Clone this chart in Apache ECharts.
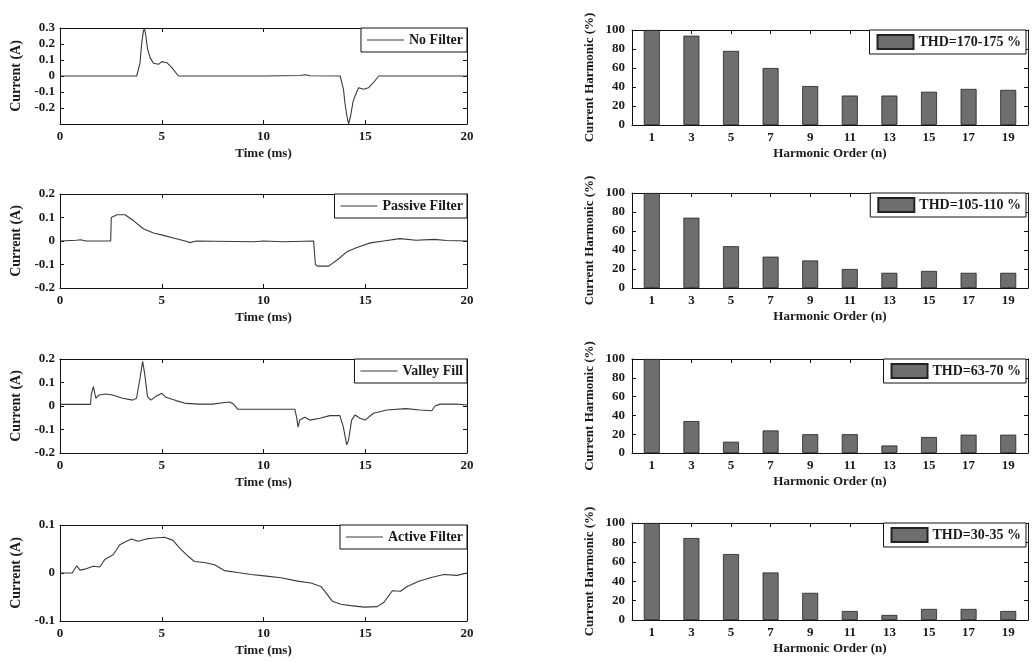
<!DOCTYPE html>
<html>
<head>
<meta charset="utf-8">
<script src="https://cdn.jsdelivr.net/npm/echarts@6/dist/echarts.min.js"></script>
<style>html,body{margin:0;padding:0;background:#fff;}#c{width:1032px;height:662px;}</style>
</head>
<body>
<div id="c"></div>
<script>
// ---------- DATA ----------
const timeTicks = [0, 5, 10, 15, 20];
const noFilter = [[0,0],[1,0],[2,0],[3,0],[3.77,0],[3.85,0.01],[3.93,0.08],[4.02,0.21],[4.1,0.28],[4.15,0.3],[4.22,0.25],[4.3,0.17],[4.43,0.115],[4.59,0.08],[4.84,0.073],[5.0,0.09],[5.08,0.094],[5.25,0.083],[5.5,0.052],[5.82,0],[8,0],[10,0],[11.8,0.003],[12.05,0.008],[12.3,0.002],[13.77,0],[13.93,-0.083],[14.0,-0.167],[14.1,-0.25],[14.18,-0.3],[14.28,-0.25],[14.4,-0.16],[14.5,-0.125],[14.67,-0.073],[14.92,-0.083],[15.16,-0.073],[15.4,-0.042],[15.66,0],[20,0]];
const passiveFilter = [[0,0],[0.8,0.003],[1.0,0.005],[1.3,0],[2.49,0],[2.52,0.1],[2.8,0.112],[3.2,0.112],[3.6,0.087],[4.1,0.052],[4.59,0.034],[5.08,0.024],[5.57,0.013],[6.15,0],[6.4,-0.007],[6.7,0],[9.5,-0.003],[10,0],[11,-0.003],[12.46,0],[12.55,-0.1],[12.65,-0.107],[13.2,-0.107],[13.6,-0.082],[14.1,-0.046],[14.59,-0.028],[15.25,-0.008],[15.9,0],[16.7,0.01],[17.5,0.003],[18.4,0.007],[19.0,0.002],[20,0]];
const valleyFill = [[0,0.007],[1.5,0.007],[1.54,0.05],[1.64,0.082],[1.76,0.033],[1.92,0.047],[2.25,0.051],[2.58,0.047],[3.07,0.033],[3.57,0.025],[3.76,0.033],[3.93,0.117],[4.06,0.19],[4.16,0.139],[4.3,0.04],[4.47,0.025],[4.72,0.042],[5.01,0.054],[5.2,0.037],[5.7,0.023],[6.2,0.011],[6.85,0.008],[7.5,0.008],[8.0,0.014],[8.33,0.017],[8.5,0.01],[8.74,-0.014],[11.54,-0.014],[11.62,-0.045],[11.7,-0.09],[11.78,-0.06],[12.03,-0.048],[12.28,-0.06],[12.77,-0.052],[13.26,-0.041],[13.75,-0.041],[13.92,-0.088],[14.09,-0.165],[14.18,-0.145],[14.33,-0.06],[14.5,-0.038],[14.74,-0.052],[14.99,-0.06],[15.4,-0.031],[16.06,-0.017],[17.0,-0.011],[17.7,-0.017],[18.27,-0.02],[18.43,0],[18.68,0.008],[19.5,0.008],[20,0.004]];
const activeFilter = [[0,0],[0.6,0],[0.82,0.015],[0.98,0.006],[1.22,0.008],[1.63,0.014],[1.96,0.0125],[2.2,0.028],[2.61,0.038],[2.94,0.059],[3.27,0.066],[3.51,0.071],[3.84,0.066],[4.24,0.071],[4.65,0.073],[5.14,0.0745],[5.55,0.068],[5.88,0.052],[6.29,0.035],[6.61,0.024],[7.1,0.022],[7.59,0.017],[8.08,0.005],[8.73,0.001],[9.39,-0.003],[10.04,-0.006],[10.86,-0.01],[11.67,-0.017],[12.33,-0.021],[12.82,-0.028],[13.14,-0.045],[13.39,-0.059],[13.8,-0.065],[14.29,-0.068],[14.94,-0.071],[15.59,-0.07],[15.92,-0.061],[16.33,-0.037],[16.73,-0.038],[17.06,-0.028],[17.63,-0.017],[18.2,-0.01],[18.86,-0.003],[19.51,-0.005],[20,0]];

const harmonicOrders = ['1','3','5','7','9','11','13','15','17','19'];
const noFilterHarm = [100, 94, 78, 60, 41, 31, 31, 35, 38, 37];
const passiveHarm = [100, 74, 44, 33, 29, 20, 16, 18, 16, 16];
const valleyHarm = [100, 34, 12, 24, 20, 20, 8, 17, 19.5, 19.5];
const activeHarm = [100, 84.5, 68, 49, 28, 9.3, 5.2, 11.4, 11.4, 9.3];

const lineNames = ['No Filter', 'Passive Filter', 'Valley Fill', 'Active Filter'];
const barNames = ['THD=170-175 %', 'THD=105-110 %', 'THD=63-70 %', 'THD=30-35 %'];
const lineRanges = [[-0.3, 0.3], [-0.2, 0.2], [-0.2, 0.2], [-0.1, 0.1]];

// ---------- LAYOUT ----------
const FONT = '"Liberation Serif","DejaVu Serif",serif';
const TXT = '#1a1a1a';
const leftGrids = [[28, 96], [194, 94], [359, 94], [525, 96]];
const rightGrids = [[30, 95], [193, 95], [359, 94], [523, 97]];
const lineData = [noFilter, passiveFilter, valleyFill, activeFilter];
const barData = [noFilterHarm, passiveHarm, valleyHarm, activeHarm];

const grid = [], xAxis = [], yAxis = [], series = [], legend = [];
const axLine = {show: true, onZero: false, lineStyle: {color: '#111', width: 1}};
const tick = {show: true, inside: true, length: 4, lineStyle: {color: '#111'}};
const lab = {fontFamily: FONT, fontSize: 13, color: TXT, fontWeight: 'bold'};
const nameStyle = {fontFamily: FONT, fontSize: 13, color: TXT, fontWeight: 'bold'};

function fmt(v) { return (Math.round(v * 10) / 10).toString(); }

for (let i = 0; i < 4; i++) {
  const gi = grid.length;
  grid.push({left: 60, width: 407, top: leftGrids[i][0], height: leftGrids[i][1], show: false});
  const xb = xAxis.length;
  xAxis.push({type: 'value', gridIndex: gi, min: 0, max: 20, interval: 5, position: 'bottom',
    axisLine: axLine, axisTick: tick, splitLine: {show: false},
    axisLabel: Object.assign({margin: 6}, lab),
    name: 'Time (ms)', nameLocation: 'middle', nameGap: 23, nameTextStyle: nameStyle});
  xAxis.push({type: 'value', gridIndex: gi, min: 0, max: 20, interval: 5, position: 'top',
    axisLine: axLine, axisTick: tick, axisLabel: {show: false}, splitLine: {show: false}});
  const yb = yAxis.length;
  const lo = lineRanges[i][0], hi = lineRanges[i][1];
  yAxis.push({type: 'value', gridIndex: gi, min: lo, max: hi, interval: 0.1, position: 'left',
    axisLine: axLine, axisTick: tick, splitLine: {show: false},
    axisLabel: Object.assign({margin: 5, formatter: function (v) { return (i === 0 && v < -0.25) ? '' : fmt(v); }}, lab),
    name: 'Current (A)', nameLocation: 'middle', nameGap: 37,
    nameTextStyle: {fontFamily: FONT, fontSize: 14, color: TXT, fontWeight: 'bold'}});
  yAxis.push({type: 'value', gridIndex: gi, min: lo, max: hi, interval: 0.1, position: 'right',
    axisLine: axLine, axisTick: tick, axisLabel: {show: false}, splitLine: {show: false}});
  series.push({type: 'line', name: lineNames[i], xAxisIndex: xb, yAxisIndex: yb, data: lineData[i],
    showSymbol: false, symbol: 'none', lineStyle: {color: '#3a3a3a', width: 1.1}, itemStyle: {color: '#3a3a3a'}, animation: false});
  legend.push({data: [{name: lineNames[i], icon: 'rect'}], right: 1032 - 467, top: leftGrids[i][0], orient: 'horizontal',
    backgroundColor: '#fff', borderColor: '#111', borderWidth: 1, padding: [4, 4, 4, 6], borderRadius: 0,
    itemWidth: 37, itemHeight: 1.2, itemGap: 2,
    textStyle: {fontFamily: FONT, fontSize: 14, color: TXT, fontWeight: 'bold', lineHeight: 16}});
}

for (let i = 0; i < 4; i++) {
  const gi = grid.length;
  grid.push({left: 632, right: 4, top: rightGrids[i][0], height: rightGrids[i][1], show: false});
  const xb = xAxis.length;
  xAxis.push({type: 'category', gridIndex: gi, data: harmonicOrders, position: 'bottom',
    axisLine: axLine, axisTick: Object.assign({alignWithLabel: true}, tick),
    axisLabel: Object.assign({margin: 6}, lab),
    name: 'Harmonic Order (n)', nameLocation: 'middle', nameGap: 22, nameTextStyle: nameStyle});
  xAxis.push({type: 'category', gridIndex: gi, data: harmonicOrders, position: 'top',
    axisLine: axLine, axisTick: Object.assign({alignWithLabel: true}, tick), axisLabel: {show: false}});
  const yb = yAxis.length;
  yAxis.push({type: 'value', gridIndex: gi, min: 0, max: 100, interval: 20, position: 'left',
    axisLine: axLine, axisTick: tick, splitLine: {show: false},
    axisLabel: Object.assign({margin: 7}, lab),
    name: 'Current Harmonic (%)', nameLocation: 'middle', nameGap: 36,
    nameTextStyle: {fontFamily: FONT, fontSize: 13, color: TXT, fontWeight: 'bold'}});
  yAxis.push({type: 'value', gridIndex: gi, min: 0, max: 100, interval: 20, position: 'right',
    axisLine: axLine, axisTick: tick, axisLabel: {show: false}, splitLine: {show: false}});
  series.push({type: 'bar', name: barNames[i], xAxisIndex: xb, yAxisIndex: yb, data: barData[i],
    barWidth: 16, itemStyle: {color: '#6e6e6e', borderColor: '#222', borderWidth: 0.8}, animation: false});
  legend.push({data: [barNames[i]], right: 6, top: rightGrids[i][0], orient: 'horizontal',
    backgroundColor: '#fff', borderColor: '#111', borderWidth: 1, padding: [4, 5, 4, 7], borderRadius: 0,
    itemWidth: 36, itemHeight: 14, itemGap: 2, icon: 'rect',
    textStyle: {fontFamily: FONT, fontSize: 14, color: TXT, fontWeight: 'bold'}});
}

const chart = echarts.init(document.getElementById('c'), null, {renderer: 'canvas'});
chart.setOption({backgroundColor: '#fff', animation: false, grid, xAxis, yAxis, series, legend});
</script>
</body>
</html>
